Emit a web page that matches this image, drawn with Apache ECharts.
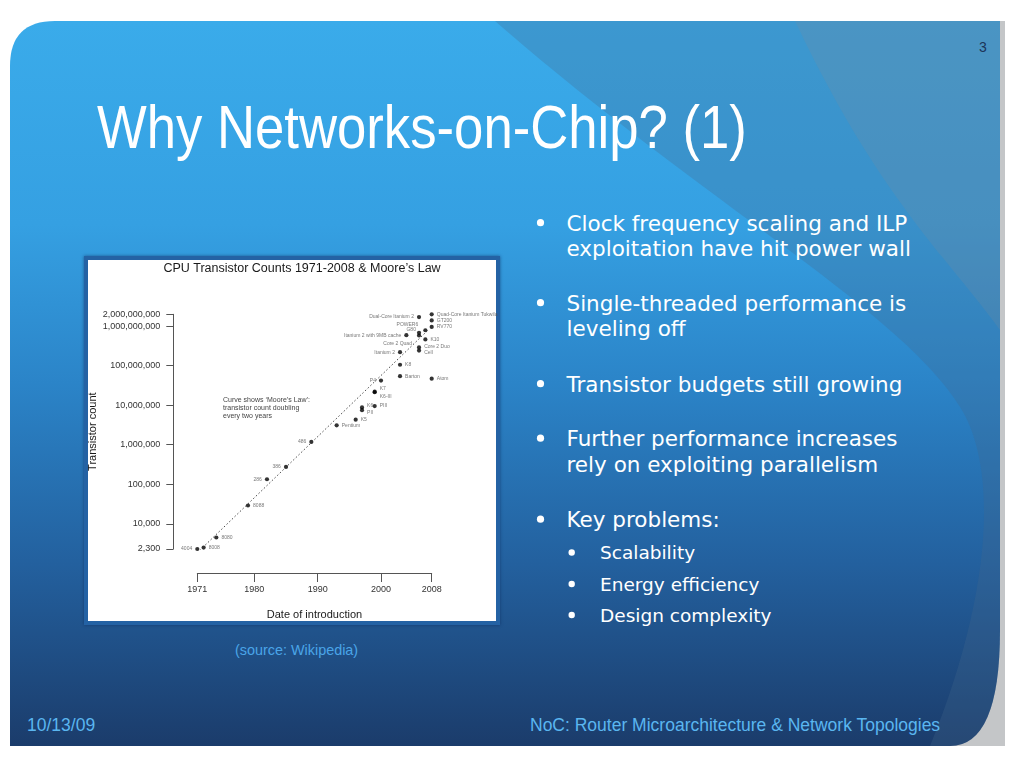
<!DOCTYPE html>
<html><head><meta charset="utf-8">
<script src="https://cdn.jsdelivr.net/npm/echarts@6/dist/echarts.min.js"></script>
<style>
html,body{margin:0;padding:0;width:1024px;height:768px;background:#fff;overflow:hidden}
#bg{position:absolute;left:0;top:0}
#box{position:absolute;left:84px;top:256px;width:408px;height:361px;background:#fff;border:4px solid #2462a4;box-shadow:0 0 3px rgba(10,40,90,0.6)}
#chart{position:absolute;left:0;top:0;width:1024px;height:768px}
</style></head><body>
<svg id="bg" width="1024" height="768" xmlns="http://www.w3.org/2000/svg">
<defs>
<linearGradient id="g1" x1="0" y1="21" x2="0" y2="746" gradientUnits="userSpaceOnUse">
 <stop offset="0" stop-color="#3aabea"/>
 <stop offset="0.28" stop-color="#35a0e2"/>
 <stop offset="0.5" stop-color="#2b84c8"/>
 <stop offset="0.75" stop-color="#23609e"/>
 <stop offset="1" stop-color="#1b3c6b"/>
</linearGradient>
<clipPath id="cp"><path d="M10 746 V66 Q10 21 55 21 H1000 V630 Q1000 746 950 746 Z"/></clipPath>
</defs>
<rect x="930" y="21" width="75" height="725" fill="#c4c6c8"/>
<path d="M10 746 V66 Q10 21 55 21 H1000 V630 Q1000 746 950 746 Z" fill="url(#g1)"/>
<g clip-path="url(#cp)">
 <path d="M495 21 L1000 21 L1000 746 L930 746 C990 600 1000 470 960 407 C900 310 700 200 495 21 Z" fill="rgba(70,105,140,0.28)"/>
 <path d="M795 21 L1000 21 L1000 330 C950 260 880 200 795 21 Z" fill="rgba(130,140,150,0.2)"/>
</g>
<text x="979" y="52" font-family="Liberation Sans" font-size="14" fill="#1c3558">3</text>
<g transform="translate(97,148) scale(0.85,1)"><text x="0" y="0" font-family="Liberation Sans" font-size="62" fill="#ffffff">Why Networks-on-Chip? (1)</text></g>
<g font-family="DejaVu Sans" font-size="21.5" fill="#ffffff">
 <circle cx="540.5" cy="222.7" r="3.6"/>
 <text x="566.5" y="230.5">Clock frequency scaling and ILP</text>
 <text x="566.5" y="255.5">exploitation have hit power wall</text>
 <circle cx="540.5" cy="302.7" r="3.6"/>
 <text x="566.5" y="310.5">Single-threaded performance is</text>
 <text x="566.5" y="336">leveling off</text>
 <circle cx="540.5" cy="383.7" r="3.6"/>
 <text x="566.5" y="391.5">Transistor budgets still growing</text>
 <circle cx="540.5" cy="438.2" r="3.6"/>
 <text x="566.5" y="446">Further performance increases</text>
 <text x="566.5" y="472">rely on exploiting parallelism</text>
 <circle cx="540.5" cy="519.2" r="3.6"/>
 <text x="566.5" y="527">Key problems:</text>
</g>
<g font-family="DejaVu Sans" font-size="18.5" fill="#ffffff">
 <circle cx="571.7" cy="552.5" r="3.2"/>
 <text x="600" y="559">Scalability</text>
 <circle cx="571.7" cy="584" r="3.2"/>
 <text x="600" y="590.5">Energy efficiency</text>
 <circle cx="571.7" cy="615" r="3.2"/>
 <text x="600" y="621.5">Design complexity</text>
</g>
<text x="235" y="655" font-family="Liberation Sans" font-size="14.4" fill="#4aa5e8">(source: Wikipedia)</text>
<text x="27" y="731" font-family="Liberation Sans" font-size="17.5" fill="#5ab6f0">10/13/09</text>
<text x="530" y="731" font-family="Liberation Sans" font-size="17.5" fill="#5ab6f0">NoC: Router Microarchitecture &amp; Network Topologies</text>
</svg>
<div id="box"></div>
<div id="chart"></div>
<script>
const cpuNames = ["4004","8008","8080","8088","286","386","486","Pentium","K5","K6","PII","PIII","K7","K6-III","P4","Barton","K8","Itanium 2","Itanium 2 with 9MB cache","Core 2 Duo","Cell","Core 2 Quad","G80","POWER6","K10","Dual-Core Itanium 2","RV770","GT200","Quad-Core Itanium Tukwila","Atom"];
const cpuYears = [1971,1972,1974,1979,1982,1985,1989,1993,1996,1997,1997,1999,1999,1999,2000,2003,2003,2003,2004,2006,2006,2006,2006,2007,2007,2006,2008,2008,2008,2008];
const cpuCounts = [2300,2500,4500,29000,134000,275000,1180000,3100000,4300000,8800000,7500000,9500000,22000000,21300000,42000000,54300000,105900000,220000000,592000000,291000000,241000000,582000000,681000000,789000000,463000000,1700000000,956000000,1400000000,2000000000,47000000];
const mooreYears = [1971, 2007.3];
const mooreCounts = [1850, 760000000];
const xTickValues = [1971, 1980, 1990, 2000, 2008];

const leftLabels = new Set(["4004","286","386","486","P4","Itanium 2","Itanium 2 with 9MB cache","Dual-Core Itanium 2","Core 2 Quad","G80","POWER6"]);
const labelOffsets = {"K6":[0,-2],"PII":[0,2],"K7":[0,-3],"K6-III":[0,4],"Core 2 Duo":[0,-1],"Cell":[0,2],"Core 2 Quad":[-2,8],"G80":[2,-3],"POWER6":[-2,-6]};

const pts = cpuNames.map((n, i) => ({
  name: n,
  value: [cpuYears[i], cpuCounts[i]],
  label: {position: leftLabels.has(n) ? 'left' : 'right', offset: labelOffsets[n] || [0, 0]}
}));

const chart = echarts.init(document.getElementById('chart'), null, {renderer: 'canvas'});
chart.setOption({
  backgroundColor: 'transparent',
  animation: false,
  textStyle: {fontFamily: 'Liberation Sans'},
  title: {
    text: "CPU Transistor Counts 1971-2008 & Moore\u2019s Law",
    left: 302, top: 262, textAlign: 'center', padding: 0,
    textStyle: {fontSize: 12.5, fontWeight: 'normal', color: '#1a1a1a', fontFamily: 'Liberation Sans'}
  },
  grid: {left: 197.3, right: 592.3, top: 314.3, bottom: 219},
  xAxis: {
    type: 'value', min: 1971, max: 2008, offset: 24,
    name: 'Date of introduction', nameLocation: 'middle', nameGap: 36,
    nameTextStyle: {fontSize: 11, color: '#1a1a1a'},
    axisLine: {show: true, lineStyle: {color: '#555', width: 1}},
    axisTick: {show: true, length: 9, lineStyle: {color: '#555'}, customValues: xTickValues},
    axisLabel: {fontSize: 9, color: '#333', margin: 12, customValues: xTickValues,
      showMinLabel: true, showMaxLabel: true, formatter: v => String(Math.round(v))},
    splitLine: {show: false}
  },
  yAxis: {
    type: 'log', logBase: 10, min: 2300, max: 2000000000, offset: 24,
    name: 'Transistor count', nameLocation: 'middle', nameGap: 74,
    nameTextStyle: {fontSize: 11, color: '#1a1a1a'},
    axisLine: {show: true, lineStyle: {color: '#555', width: 1}},
    axisTick: {show: true, length: 7, lineStyle: {color: '#555'}},
    axisLabel: {fontSize: 9, color: '#333', margin: 13, showMinLabel: true, showMaxLabel: true,
      formatter: v => Math.round(v).toLocaleString('en-US')},
    splitLine: {show: false}, minorTick: {show: false}
  },
  graphic: [{
    type: 'text', x: 223, y: 396,
    style: {text: "Curve shows \u2018Moore\u2019s Law\u2019:\ntransistor count doubling\nevery two years",
      font: '7px "Liberation Sans"', fill: '#444', lineHeight: 8}
  }],
  series: [{
    type: 'line', data: mooreYears.map((y, i) => [y, mooreCounts[i]]),
    symbol: 'none', silent: true,
    lineStyle: {color: '#333', width: 0.9, type: [1.5, 2.2]}
  }, {
    type: 'scatter', data: pts, symbol: 'circle', symbolSize: 4.2,
    itemStyle: {color: '#000'},
    label: {show: true, formatter: '{b}', fontSize: 5, color: '#555', distance: 3}
  }]
});
</script>
</body></html>
